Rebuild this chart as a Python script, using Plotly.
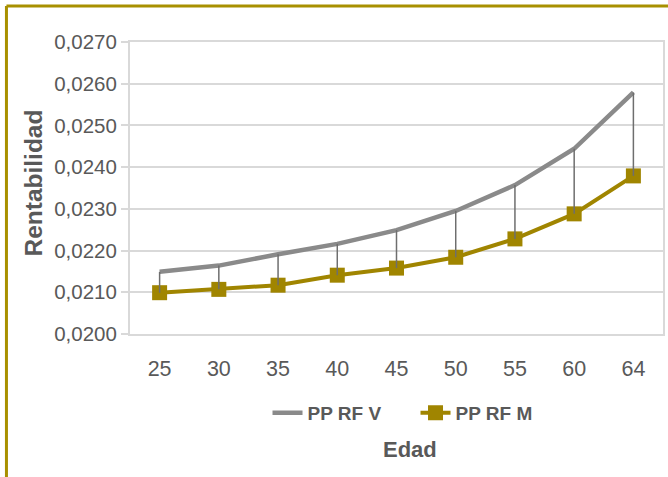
import plotly.graph_objects as go

# Edad (años) y rentabilidad de cada perfil
edades = ["25", "30", "35", "40", "45", "50", "55", "60", "64"]
pp_rf_v = [0.02149, 0.02164, 0.02191, 0.02216, 0.02249, 0.02295, 0.02357, 0.02444, 0.02579]
pp_rf_m = [0.02099, 0.02107, 0.02117, 0.02141, 0.02158, 0.02184, 0.02228, 0.02288, 0.02379]
y_ticks = [0.0200, 0.0210, 0.0220, 0.0230, 0.0240, 0.0250, 0.0260, 0.0270]

GRAY = "#8a8a8a"
GOLD = "#a08500"
TEXT = "#595959"
GRID = "#d9d9d9"
FONT = "Liberation Sans, Arial, sans-serif"

fig = go.Figure()

fig.add_trace(go.Scatter(
    x=edades, y=pp_rf_v, name="PP RF V", mode="lines",
    line=dict(color=GRAY, width=4.5),
))
fig.add_trace(go.Scatter(
    x=edades, y=pp_rf_m, name="PP RF M", mode="lines+markers",
    line=dict(color=GOLD, width=4),
    marker=dict(symbol="square", size=15, color=GOLD),
))

# Líneas verticales entre ambas series
drop_x, drop_y = [], []
for e, v, m in zip(edades, pp_rf_v, pp_rf_m):
    drop_x += [e, e, None]
    drop_y += [v, m, None]
fig.add_trace(go.Scatter(
    x=drop_x, y=drop_y, mode="lines", showlegend=False, hoverinfo="skip",
    line=dict(color="#6e6e6e", width=1.5),
))

fig.update_layout(
    width=668, height=477,
    margin=dict(l=130, r=3, t=42, b=143),
    paper_bgcolor="white", plot_bgcolor="white",
    separators=",.",
    font=dict(family=FONT, color=TEXT, size=21),
    showlegend=True,
    legend=dict(
        orientation="h", x=0.258, xanchor="left", y=-0.2705, yanchor="middle",
        font=dict(family=FONT, size=19, color=TEXT, weight="bold"),
        entrywidth=103, entrywidthmode="pixels",
        bgcolor="rgba(0,0,0,0)", borderwidth=0,
    ),
    xaxis=dict(
        type="category", range=[-0.5, 8.5],
        showgrid=False, showline=True, linecolor=GRID, linewidth=2, mirror=True,
        ticks="", tickfont=dict(size=21.5, color=TEXT), ticklabelstandoff=14,
    ),
    yaxis=dict(
        range=[0.0200, 0.0270], tickvals=y_ticks, tickformat=".4f",
        showgrid=True, gridcolor=GRID, gridwidth=2,
        showline=True, linecolor=GRID, linewidth=2, mirror=True,
        ticks="outside", ticklen=7, tickwidth=2, tickcolor=GRID,
        tickfont=dict(size=20.5, color=TEXT), zeroline=False,
    ),
    annotations=[
        dict(text="<b>Rentabilidad</b>", x=-0.181, y=0.517, xref="paper", yref="paper",
             textangle=-90, showarrow=False, xanchor="center", yanchor="middle",
             font=dict(family=FONT, size=24.5, color=TEXT)),
        dict(text="<b>Edad</b>", x=0.525, y=-0.397, xref="paper", yref="paper",
             showarrow=False, xanchor="center", yanchor="middle",
             font=dict(family=FONT, size=22, color=TEXT)),
    ],
    shapes=[
        # marco dorado superior e izquierdo
        dict(type="line", xref="paper", yref="paper", x0=-0.2318, x1=1.01, y0=1.1233, y1=1.1233,
             line=dict(color="#a89000", width=3)),
        dict(type="line", xref="paper", yref="paper", x0=-0.2318, x1=-0.2318, y0=1.1233, y1=-0.5,
             line=dict(color="#a89000", width=3)),
    ],
)

fig.write_html("out.html")
